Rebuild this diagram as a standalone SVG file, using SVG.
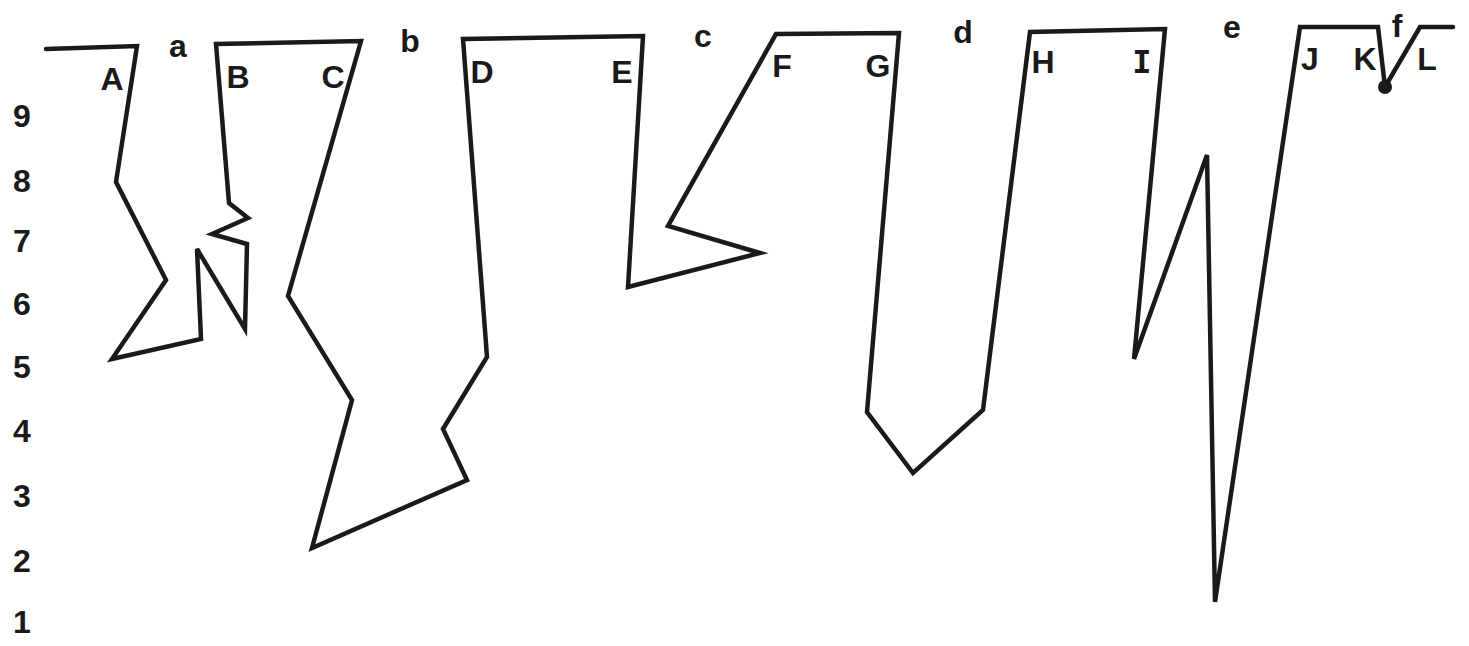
<svg xmlns="http://www.w3.org/2000/svg" width="1469" height="646" viewBox="0 0 1469 646">
<style>
.ln{fill:none;stroke:#1a1a1a;stroke-width:4.5;stroke-linejoin:miter;stroke-linecap:round}
.t{font-family:"Liberation Sans",Arial,sans-serif;font-size:32px;font-weight:bold;fill:#1a1a1a;text-anchor:middle}
.m{font-family:"DejaVu Sans Mono","Liberation Mono",monospace;font-size:32px;font-weight:bold;fill:#1a1a1a;text-anchor:middle}
</style>
<rect width="1469" height="646" fill="#fff"/>
<g id="scale">
<text class="t" x="22" y="127">9</text>
<text class="t" x="22" y="192">8</text>
<text class="t" x="22" y="252">7</text>
<text class="t" x="22" y="315">6</text>
<text class="t" x="22" y="378">5</text>
<text class="t" x="22" y="442">4</text>
<text class="t" x="22" y="507">3</text>
<text class="t" x="22" y="572">2</text>
<text class="t" x="22" y="633">1</text>
</g>
<g id="trace">
<path class="ln" d="M46,49 L137,46 L116,182 L166,280 L112,359 L201,339 L197,249 L245,329 L247,244 L212,234 L248,218 L229,203 L216,44 L361,41 L288,296 L352,400 L312,548 L467,480 L443,429 L487,357 L463,39 L643,36 L628,287 L760,253 L668,226 L776,34 L899,33 L867,412 L913,473 L983,410 L1030,32 L1165,29 L1134,359 L1207,155 L1215,602 L1300,27 L1378,27 L1385,87 L1420,27 L1453,27"/>
<circle cx="1385" cy="87" r="7" fill="#1a1a1a"/>
</g>
<g id="labels">
<text class="t" x="112" y="90">A</text>
<text class="t" x="178" y="57">a</text>
<text class="t" x="238" y="88">B</text>
<text class="t" x="333" y="88">C</text>
<text class="t" x="410" y="52">b</text>
<text class="t" x="482" y="83">D</text>
<text class="t" x="622" y="83">E</text>
<text class="t" x="703" y="47">c</text>
<text class="t" x="782" y="77">F</text>
<text class="t" x="878" y="77">G</text>
<text class="t" x="963" y="43">d</text>
<text class="t" x="1043" y="73">H</text>
<text class="m" x="1142" y="73">I</text>
<text class="t" x="1232" y="38">e</text>
<text class="t" x="1310" y="70">J</text>
<text class="t" x="1365" y="70">K</text>
<text class="t" x="1427" y="70">L</text>
<text class="t" x="1397" y="37">f</text>
</g>
</svg>
